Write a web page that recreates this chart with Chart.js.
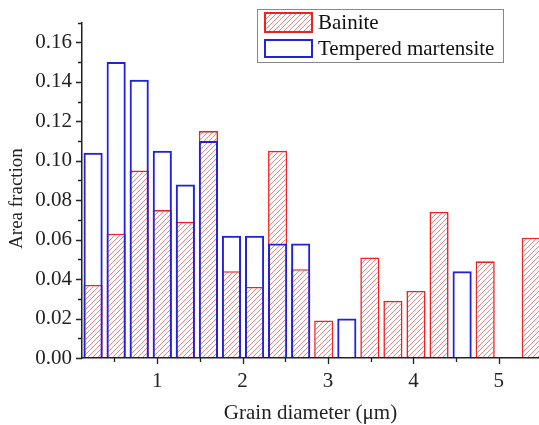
<!DOCTYPE html>
<html>
<head>
<meta charset="utf-8">
<script src="https://cdn.jsdelivr.net/npm/chart.js@4.4.0/dist/chart.umd.min.js"></script>
<style>
  body { margin: 0; background: #fff; }
  #wrap { width: 539px; height: 425px; }
</style>
</head>
<body>
<div id="wrap"><canvas id="chart"></canvas></div>
<script>
// bin centres (grain diameter, um)
const binCenters = [0.25, 0.52, 0.79, 1.06, 1.33, 1.60, 1.87, 2.14, 2.41, 2.68,
                    2.95, 3.22, 3.49, 3.76, 4.03, 4.30, 4.57, 4.84, 5.11, 5.38];
const bainite = [0.037, 0.063, 0.095, 0.075, 0.069, 0.115, 0.044, 0.036, 0.105, 0.045,
                 0.019, null, 0.051, 0.029, 0.034, 0.074, null, 0.049, null, 0.061];
const martensite = [0.104, 0.150, 0.141, 0.105, 0.088, 0.110, 0.062, 0.062, 0.058, 0.058,
                    null, 0.020, null, null, null, null, 0.044, null, null, null];
const xTicks = [1, 2, 3, 4, 5];
const xMinor = [0.5, 1.5, 2.5, 3.5, 4.5, 5.5];
const yTicks = [0, 0.02, 0.04, 0.06, 0.08, 0.10, 0.12, 0.14, 0.16];
const yMinor = [0.01, 0.03, 0.05, 0.07, 0.09, 0.11, 0.13, 0.15, 0.17];
const yTitle = 'Area fraction';

const RED = '#ee2222';
const BLUE = '#2222dd';

// diagonal hatch for bainite
function makeHatch() {
    const s = 5;
    const c = document.createElement('canvas');
    c.width = s; c.height = s;
    const g = c.getContext('2d');
    g.fillStyle = '#fff';
    g.fillRect(0, 0, s, s);
    g.strokeStyle = 'rgba(235,80,80,0.7)';
    g.lineWidth = 1;
    g.beginPath();
    g.moveTo(0, s); g.lineTo(s, 0);
    g.moveTo(-1, 1); g.lineTo(1, -1);
    g.moveTo(s - 1, s + 1); g.lineTo(s + 1, s - 1);
    g.stroke();
    return g.createPattern(c, 'repeat');
}
const hatch = makeHatch();

function points(vals) {
    return binCenters.map((x, i) => ({ x: x, y: vals[i] })).filter(p => p.y !== null);
}

Chart.defaults.font.family = "'Liberation Serif', 'Times New Roman', serif";
Chart.defaults.font.size = 21;
Chart.defaults.color = '#222';

// minor/major tick marks drawn outward, plus the y title
const tickMarks = {
    id: 'tickMarks',
    afterDraw(chart) {
        const ctx = chart.ctx;
        const x = chart.scales.x, y = chart.scales.y;
        const a = chart.chartArea;
        ctx.save();
        ctx.strokeStyle = '#222';
        ctx.lineWidth = 1.3;
        ctx.beginPath();
        xTicks.forEach(v => { const p = Math.round(x.getPixelForValue(v)) + 0.5; ctx.moveTo(p, a.bottom); ctx.lineTo(p, a.bottom + 6); });
        xMinor.forEach(v => { const p = Math.round(x.getPixelForValue(v)) + 0.5; if (p < a.right) { ctx.moveTo(p, a.bottom); ctx.lineTo(p, a.bottom + 4); } });
        yTicks.forEach(v => { const p = Math.round(y.getPixelForValue(v)) + 0.5; ctx.moveTo(a.left, p); ctx.lineTo(a.left - 6, p); });
        yMinor.forEach(v => { const p = Math.round(y.getPixelForValue(v)) + 0.5; ctx.moveTo(a.left, p); ctx.lineTo(a.left - 4, p); });
        ctx.stroke();

        ctx.translate(17, 198.5);
        ctx.rotate(-Math.PI / 2);
        ctx.fillStyle = '#222';
        ctx.font = "19px 'Liberation Serif', serif";
        ctx.textAlign = 'center';
        ctx.textBaseline = 'middle';
        ctx.fillText(yTitle, 0, 0);
        ctx.restore();
    }
};

// boxed legend inside the plot
const boxLegend = {
    id: 'boxLegend',
    afterDraw(chart) {
        const ctx = chart.ctx;
        ctx.save();
        ctx.strokeStyle = '#888';
        ctx.lineWidth = 1;
        ctx.fillStyle = '#fff';
        ctx.fillRect(257.5, 9.5, 246, 53);
        ctx.strokeRect(257.5, 9.5, 246, 53);
        ctx.lineWidth = 2;
        ctx.fillStyle = hatch;
        ctx.fillRect(265, 13, 47, 19);
        ctx.strokeStyle = RED;
        ctx.strokeRect(265, 13, 47, 19);
        ctx.strokeStyle = BLUE;
        ctx.strokeRect(265, 40, 47, 17);
        ctx.fillStyle = '#111';
        ctx.font = "21px 'Liberation Serif', serif";
        ctx.textBaseline = 'middle';
        ctx.fillText(chart.data.datasets[0].label, 318, 23);
        ctx.fillText(chart.data.datasets[1].label, 318, 49);
        ctx.restore();
    }
};

new Chart(document.getElementById('chart'), {
    type: 'bar',
    data: {
        datasets: [{
            label: 'Bainite',
            data: points(bainite),
            backgroundColor: hatch,
            borderColor: RED,
            borderWidth: 1.6,
            order: 1
        }, {
            label: 'Tempered martensite',
            data: points(martensite),
            backgroundColor: 'rgba(0,0,0,0)',
            borderColor: BLUE,
            borderWidth: 2,
            order: 0
        }]
    },
    options: {
        responsive: true,
        maintainAspectRatio: false,
        animation: false,
        grouped: false,
        categoryPercentage: 1,
        barPercentage: 0.83,
        layout: { padding: { top: 21, right: 0, bottom: 0, left: 0 } },
        plugins: {
            legend: { display: false },
            tooltip: { enabled: false }
        },
        scales: {
            x: {
                type: 'linear',
                offset: false,
                min: 0.12,
                max: 5.47,
                afterFit: s => { s.height = 67; },
                afterBuildTicks: s => { s.ticks = xTicks.map(v => ({ value: v })); },
                grid: { display: false, offset: false, drawTicks: false },
                border: { display: true, color: '#222', width: 1.5, z: 1 },
                ticks: { padding: 11, callback: v => String(v) },
                title: { display: true, text: 'Grain diameter (μm)', font: { lineHeight: 1 }, padding: { top: 0, bottom: 1 } }
            },
            y: {
                min: 0,
                max: 0.17,
                afterFit: s => { s.width = 82; },
                afterBuildTicks: s => { s.ticks = yTicks.map(v => ({ value: v })); },
                grid: { display: false, drawTicks: false },
                border: { display: true, color: '#222', width: 1.5, z: 1 },
                ticks: { padding: 10, callback: v => v.toFixed(2) },
                title: { display: false }
            }
        }
    },
    plugins: [tickMarks, boxLegend]
});
</script>
</body>
</html>
